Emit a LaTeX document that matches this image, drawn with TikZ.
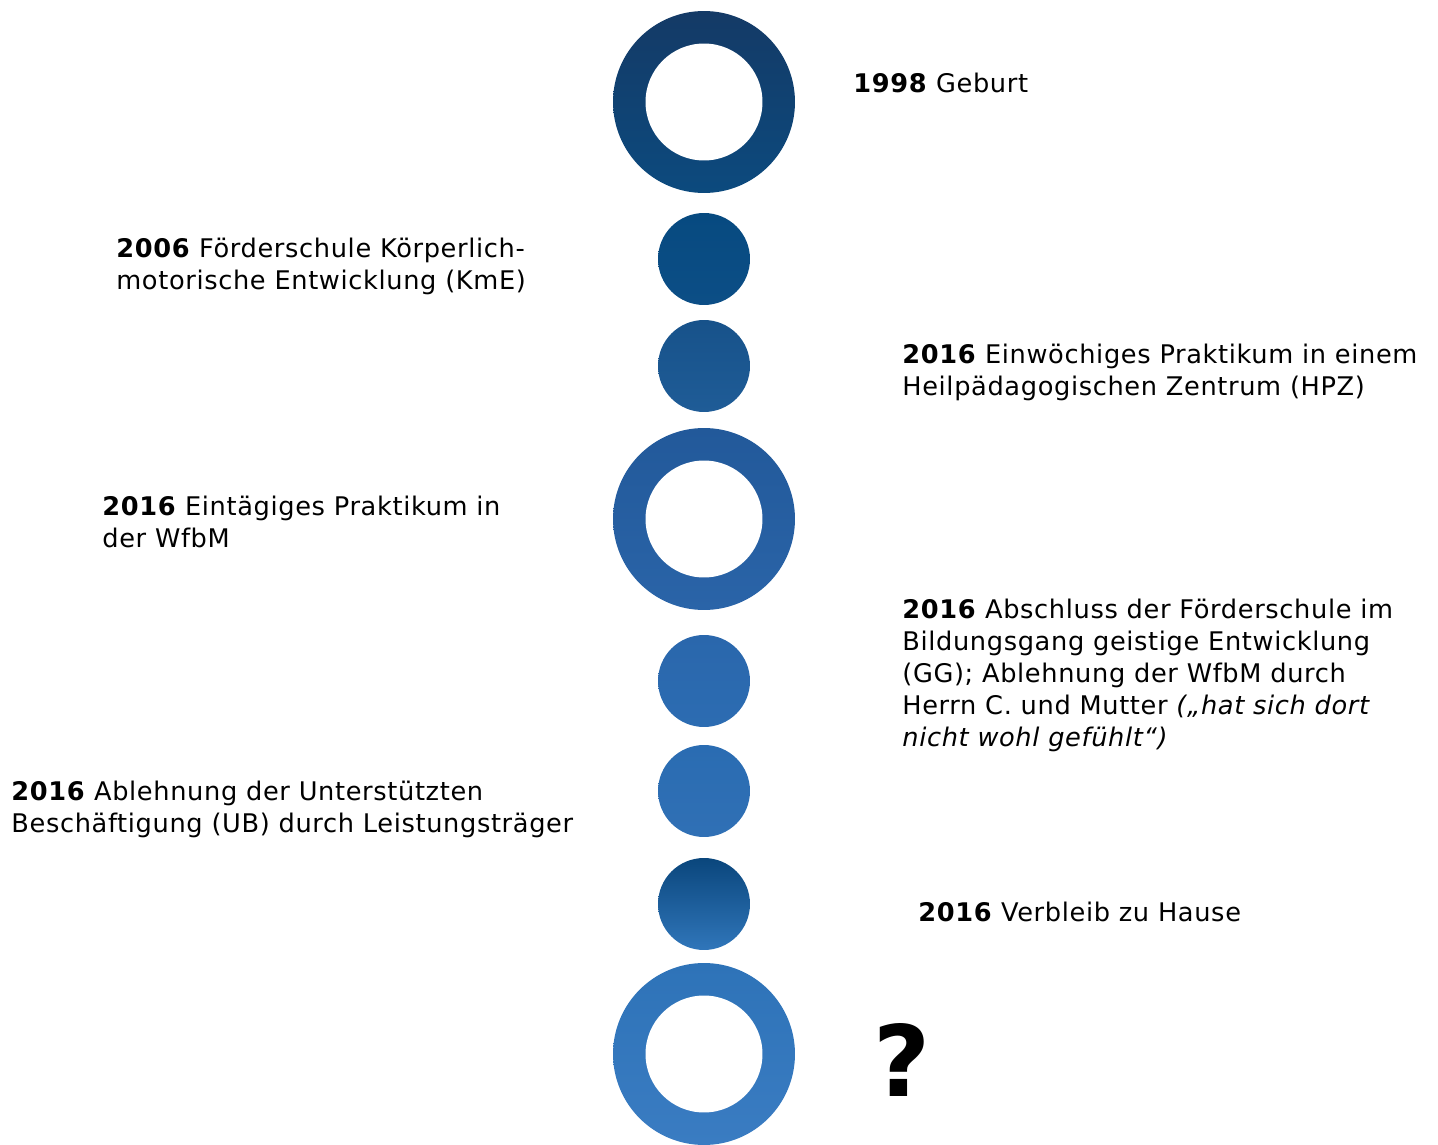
\documentclass[tikz,border=0pt]{standalone}
\usepackage{fontspec}
\setmainfont{DejaVu Sans}[LetterSpace=2.5]
\usepackage{xcolor}
\usepackage{tikz}

\begin{document}
\begin{tikzpicture}[x=0.02cm,y=-0.02cm,
  ring/.style={circle,inner sep=0pt,minimum size=3.64cm,
    path picture={\fill[white] (path picture bounding box.center) circle (1.17cm);}},
  dot/.style={circle,inner sep=0pt,minimum size=1.84cm},
  event/.style={anchor=west,align=left,inner sep=0pt,font=\fontsize{14.6}{18.2}\selectfont}]
\useasboundingbox (0,0) rectangle (1438,1145);
% timeline
\node[ring,top color={rgb,255:red,20;green,58;blue,102},bottom color={rgb,255:red,12;green,74;blue,126}] (r1998) at (704,102) {};
\node[dot,top color={rgb,255:red,7;green,74;blue,128},bottom color={rgb,255:red,12;green,78;blue,134}] (d2006) at (704,259) {};
\node[dot,top color={rgb,255:red,23;green,82;blue,138},bottom color={rgb,255:red,31;green,92;blue,151}] (dhpz) at (704,366) {};
\node[ring,top color={rgb,255:red,34;green,89;blue,154},bottom color={rgb,255:red,42;green,100;blue,168}] (rwfbm) at (704,519) {};
\node[dot,top color={rgb,255:red,42;green,103;blue,172},bottom color={rgb,255:red,44;green,108;blue,178}] (dgg) at (704,681) {};
\node[dot,top color={rgb,255:red,42;green,108;blue,178},bottom color={rgb,255:red,48;green,112;blue,181}] (dub) at (704,791) {};
\node[dot,top color={rgb,255:red,10;green,70;blue,124},bottom color={rgb,255:red,48;green,118;blue,186}] (dhome) at (704,904) {};
\node[ring,top color={rgb,255:red,46;green,115;blue,184},bottom color={rgb,255:red,58;green,124;blue,194}] (rnext) at (704,1054) {};
% labels
\node[event] (t1998) at (853,83) {\textbf{1998} Geburt};
\node[event] (t2006) at (116,266) {\textbf{2006} Förderschule Körperlich-\\motorische Entwicklung (KmE)};
\node[event] (thpz) at (902,372) {\textbf{2016} Einwöchiges Praktikum in einem\\Heilpädagogischen Zentrum (HPZ)};
\node[event] (twfbm) at (102,522) {\textbf{2016} Eintägiges Praktikum in\\der WfbM};
\node[event] (tgg) at (902,675) {\textbf{2016} Abschluss der Förderschule im\\Bildungsgang geistige Entwicklung\\(GG); Ablehnung der WfbM durch\\Herrn C. und Mutter \textit{(„hat sich dort}\\\textit{nicht wohl gefühlt“)}};
\node[event] (tub) at (11,809) {\textbf{2016} Ablehnung der Unterstützten\\Beschäftigung (UB) durch Leistungsträger};
\node[event] (thome) at (918,912) {\textbf{2016} Verbleib zu Hause};
\node[font=\fontsize{56}{60}\selectfont\bfseries] (tnext) at (902,1060) {?};
\end{tikzpicture}
\end{document}
